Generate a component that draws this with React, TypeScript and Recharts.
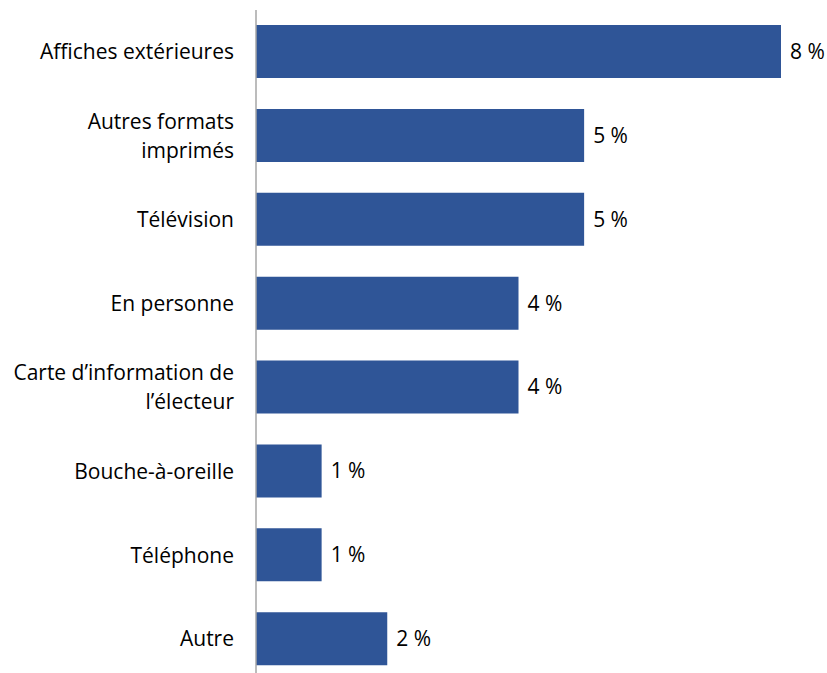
import { BarChart, Bar, XAxis, YAxis, LabelList } from 'recharts'

const categories = [
  'Affiches extérieures',
  'Autres formats\nimprimés',
  'Télévision',
  'En personne',
  'Carte d’information de\nl’électeur',
  'Bouche-à-oreille',
  'Téléphone',
  'Autre',
]
const values = [8, 5, 5, 4, 4, 1, 1, 2]

const data = categories.map((name, i) => ({ name, value: values[i] }))

const FONT = '"Open Sans", "Noto Sans", sans-serif'
const FS = 21

function CategoryTick(props: any) {
  const { x, y, payload } = props
  const lines = String(payload.value).split('\n')
  const lh = 29
  const start = -((lines.length - 1) * lh) / 2
  return (
    <text x={x} y={y} textAnchor="end" fill="#000" fontSize={FS} fontFamily={FONT}>
      {lines.map((l, i) => (
        <tspan key={i} x={x} y={y + start + i * lh} dy="0.35em">
          {l}
        </tspan>
      ))}
    </text>
  )
}

export default function App() {
  return (
    <div style={{ width: 827, height: 673, overflow: 'hidden' }}>
      <style>{'body{margin:0}'}</style>
      <BarChart
        width={827}
        height={681}
        data={data}
        layout="vertical"
        margin={{ top: 10, right: 46, bottom: 0, left: 0 }}
      >
        <XAxis type="number" domain={[0, 8]} hide />
        <YAxis
          type="category"
          dataKey="name"
          width={256}
          axisLine={{ stroke: '#A6A6A6', strokeWidth: 1.5 }}
          tickLine={false}
          tickSize={0}
          tickMargin={22}
          tick={<CategoryTick />}
          interval={0}
        />
        <Bar dataKey="value" fill="#2F5597" barSize={53} isAnimationActive={false}>
          <LabelList
            dataKey="value"
            position="right"
            offset={9}
            formatter={(v: any) => `${v} %`}
            style={{ fill: '#000', fontSize: FS, fontFamily: FONT }}
          />
        </Bar>
      </BarChart>
    </div>
  )
}
